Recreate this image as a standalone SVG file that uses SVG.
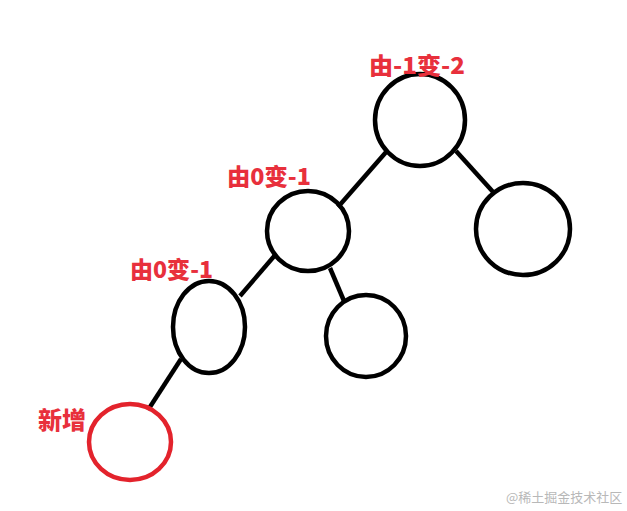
<svg xmlns="http://www.w3.org/2000/svg" width="627" height="511" viewBox="0 0 627 511">
<style>
.n{fill:none;stroke:#000;stroke-width:4.5}
.r{fill:none;stroke:#e3232c;stroke-width:4.5}
.e{stroke:#000;stroke-width:4.5;stroke-linecap:butt}
.l{font-family:"Noto Sans CJK SC","Liberation Sans",sans-serif;font-weight:900;fill:#e8303c}
.w{font-family:"Noto Sans CJK SC",sans-serif;fill:#b8b8b8;font-size:13px}
</style>
<rect width="627" height="511" fill="#fff"/>
<g id="connectors">
<line class="e" x1="387" y1="151" x2="338" y2="207"/>
<line class="e" x1="456" y1="151" x2="494" y2="193"/>
<line class="e" x1="276" y1="254" x2="240" y2="296"/>
<line class="e" x1="330" y1="268" x2="344" y2="301"/>
<line class="e" x1="181" y1="359" x2="148" y2="410"/>
</g>
<g id="root">
<ellipse class="n" cx="420" cy="120" rx="45" ry="46"/>
<text class="l" x="369" y="74" font-size="23" textLength="96" lengthAdjust="spacingAndGlyphs">由-1变-2</text>
</g>
<g id="nodeA">
<ellipse class="n" cx="308" cy="231" rx="41" ry="40"/>
<text class="l" x="227" y="185" font-size="23" textLength="84" lengthAdjust="spacingAndGlyphs">由0变-1</text>
</g>
<g id="nodeB">
<ellipse class="n" cx="523" cy="229" rx="47" ry="46"/>
</g>
<g id="nodeC">
<ellipse class="n" cx="209" cy="327" rx="36" ry="46"/>
<text class="l" x="130" y="278" font-size="23" textLength="83" lengthAdjust="spacingAndGlyphs">由0变-1</text>
</g>
<g id="nodeD">
<ellipse class="n" cx="366" cy="336" rx="40" ry="41"/>
</g>
<g id="nodeNew">
<ellipse class="r" cx="130" cy="442" rx="41" ry="38"/>
<text class="l" x="38" y="429" font-size="24">新增</text>
</g>
<text class="w" x="506" y="502">@稀土掘金技术社区</text>
</svg>
